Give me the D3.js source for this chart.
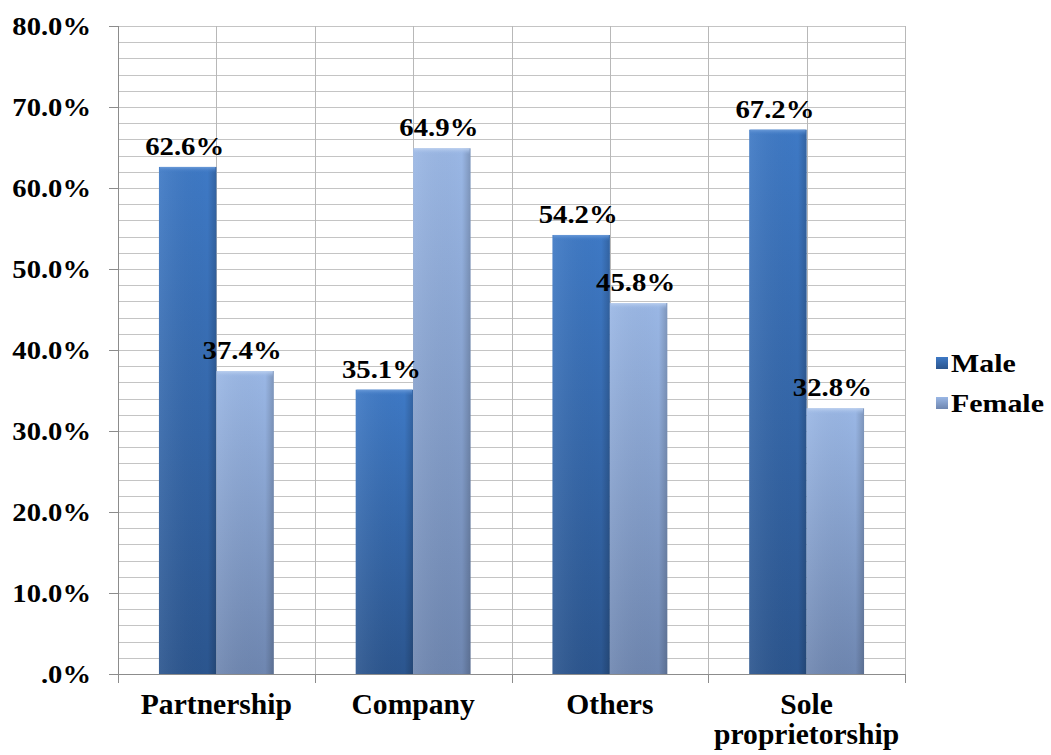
<!DOCTYPE html>
<html>
<head>
<meta charset="utf-8">
<script src="https://cdn.jsdelivr.net/npm/d3@7"></script>
<style>
  html, body { margin: 0; padding: 0; background: #fff; }
  svg { display: block; }
  text { font-family: "Liberation Serif", "Times New Roman", serif; font-weight: bold; fill: #000; }
</style>
</head>
<body>
<svg id="chart" width="1051" height="755"></svg>
<script>
// Share of owners by gender for each business type
const categories = ["Partnership", "Company", "Others", "Sole proprietorship"];
const categoryLines = [["Partnership"], ["Company"], ["Others"], ["Sole", "proprietorship"]];
const seriesNames = ["Male", "Female"];
const maleValues = [0.626, 0.351, 0.542, 0.672];
const femaleValues = [0.374, 0.649, 0.458, 0.328];
const yTicks = [0, 0.1, 0.2, 0.3, 0.4, 0.5, 0.6, 0.7, 0.8];

const values = { Male: maleValues, Female: femaleValues };

const svg = d3.select("#chart");
const plot = { left: 118, right: 905, top: 26, bottom: 674 };

const x = d3.scaleBand().domain(categories).range([plot.left, plot.right]).padding(0);
const xs = d3.scaleBand().domain(seriesNames).range([0, x.bandwidth()]).paddingInner(0).paddingOuter(0.713);
const y = d3.scaleLinear().domain([0, 0.8]).range([plot.bottom, plot.top]);

const defs = svg.append("defs");
const palette = {
  Male: { top: "#3e79c5", bottom: "#2b558e", hi: "#6a9ad8" },
  Female: { top: "#9ab7e5", bottom: "#6e86b0", hi: "#bcd0ef" }
};
seriesNames.forEach(s => {
  const g = defs.append("linearGradient").attr("id", "g-" + s).attr("x1", 0).attr("y1", 0).attr("x2", 0).attr("y2", 1);
  g.append("stop").attr("offset", "0%").attr("stop-color", palette[s].top);
  g.append("stop").attr("offset", "100%").attr("stop-color", palette[s].bottom);
  const h = defs.append("linearGradient").attr("id", "h-" + s).attr("x1", 0).attr("y1", 0).attr("x2", 0).attr("y2", 1);
  h.append("stop").attr("offset", "0%").attr("stop-color", palette[s].hi).attr("stop-opacity", 1);
  h.append("stop").attr("offset", "100%").attr("stop-color", palette[s].top).attr("stop-opacity", 0);
  const side = defs.append("linearGradient").attr("id", "s-" + s).attr("x1", 0).attr("y1", 0).attr("x2", 1).attr("y2", 0);
  side.append("stop").attr("offset", "0%").attr("stop-color", "#fff").attr("stop-opacity", 0.08);
  side.append("stop").attr("offset", "85%").attr("stop-color", "#000").attr("stop-opacity", 0);
  side.append("stop").attr("offset", "100%").attr("stop-color", "#000").attr("stop-opacity", 0.18);
});

// Minor horizontal gridlines every 2%
const gridY = d3.range(0, 0.8001, 0.02);
svg.append("g").selectAll("line").data(gridY).join("line")
  .attr("x1", plot.left).attr("x2", plot.right)
  .attr("y1", d => Math.round(y(d)) + 0.5).attr("y2", d => Math.round(y(d)) + 0.5)
  .attr("stroke", "#c4c4c4").attr("stroke-width", 1);

// Vertical gridlines at every half category
const gridX = [];
categories.forEach(c => { gridX.push(x(c) + x.bandwidth() / 2); gridX.push(x(c) + x.bandwidth()); });
svg.append("g").selectAll("line").data(gridX).join("line")
  .attr("x1", d => Math.round(d) + 0.5).attr("x2", d => Math.round(d) + 0.5)
  .attr("y1", plot.top).attr("y2", plot.bottom)
  .attr("stroke", "#b8b8b8").attr("stroke-width", 1);

// Bars
const barData = [];
categories.forEach((c, i) => seriesNames.forEach(s => barData.push({ c, s, v: values[s][i] })));
const bars = svg.append("g").selectAll("g").data(barData).join("g")
  .attr("transform", d => `translate(${x(d.c) + xs(d.s)},0)`);
bars.append("rect")
  .attr("x", 0).attr("y", d => y(d.v)).attr("width", xs.bandwidth()).attr("height", d => y(0) - y(d.v))
  .attr("fill", d => `url(#g-${d.s})`);
bars.append("rect")
  .attr("x", 0).attr("y", d => y(d.v)).attr("width", xs.bandwidth()).attr("height", d => y(0) - y(d.v))
  .attr("fill", d => `url(#s-${d.s})`);
bars.append("rect")
  .attr("x", 1).attr("y", d => y(d.v)).attr("width", xs.bandwidth() - 2).attr("height", 6)
  .attr("fill", d => `url(#h-${d.s})`);

// Axes
svg.append("line").attr("x1", plot.left + 0.5).attr("x2", plot.left + 0.5)
  .attr("y1", plot.top).attr("y2", plot.bottom).attr("stroke", "#8c8c8c");
svg.append("line").attr("x1", plot.left).attr("x2", plot.right)
  .attr("y1", plot.bottom + 0.5).attr("y2", plot.bottom + 0.5).attr("stroke", "#8c8c8c");
svg.append("g").selectAll("line").data(yTicks).join("line")
  .attr("x1", plot.left - 9).attr("x2", plot.left)
  .attr("y1", d => Math.round(y(d)) + 0.5).attr("y2", d => Math.round(y(d)) + 0.5)
  .attr("stroke", "#8c8c8c");
const xTickPos = [plot.left].concat(categories.map(c => x(c) + x.bandwidth()));
svg.append("g").selectAll("line").data(xTickPos).join("line")
  .attr("x1", d => Math.round(d) + 0.5).attr("x2", d => Math.round(d) + 0.5)
  .attr("y1", plot.bottom).attr("y2", plot.bottom + 9)
  .attr("stroke", "#8c8c8c");

function stretchedText(g, tx, ty, str, size, sx, anchor) {
  return g.append("text")
    .attr("transform", `translate(${tx},${ty}) scale(${sx},1)`)
    .attr("text-anchor", anchor)
    .style("font-size", size + "px")
    .text(str);
}

// Y tick labels
const fmt = d => d === 0 ? ".0%" : (d * 100).toFixed(1) + "%";
const yLab = svg.append("g");
yTicks.forEach(t => stretchedText(yLab, 91, y(t) + 9, fmt(t), 26, 1.1, "end"));

// Category labels
const xLab = svg.append("g");
categories.forEach((c, i) => {
  categoryLines[i].forEach((line, j) =>
    stretchedText(xLab, x(c) + x.bandwidth() / 2, 714 + j * 30, line, 29, 1.02, "middle"));
});

// Value labels
const vLab = svg.append("g");
barData.forEach(d => {
  stretchedText(vLab, x(d.c) + xs(d.s) + xs.bandwidth() / 2 - 3, y(d.v) - 12, (d.v * 100).toFixed(1) + "%", 25, 1.15, "middle");
});

// Legend
const legend = svg.append("g");
seriesNames.forEach((s, i) => {
  const ly = 364 + i * 40;
  legend.append("rect").attr("x", 936).attr("y", ly - 7).attr("width", 12).attr("height", 12)
    .attr("fill", `url(#g-${s})`);
  stretchedText(legend, 951, ly + 8, s, 26, 1.15, "start");
});
</script>
</body>
</html>
